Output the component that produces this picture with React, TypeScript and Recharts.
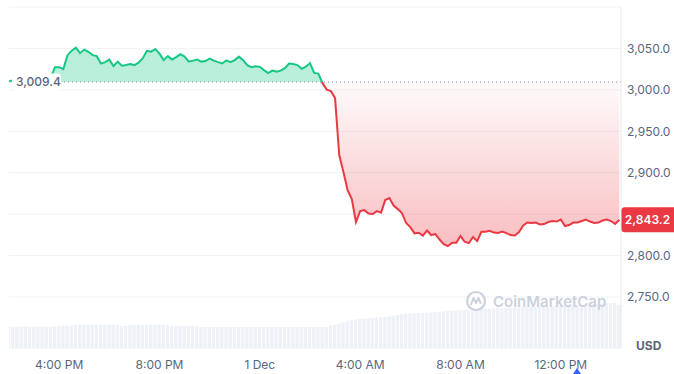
import React from "react";
import {
  ComposedChart,
  Area,
  Bar,
  XAxis,
  YAxis,
  CartesianGrid,
  ReferenceLine,
} from "recharts";

// ---- data ----
const START_HOUR = 14; // 2:00 PM, 30 Nov
const STEP_HOURS = 1 / 6; // 10 minutes

const prices = [
  3010, 3012, 3011, 3013, 3012, 3014, 3012, 3013, 3015, 3013,
  3015.4, 3027.2, 3027.4, 3025.0, 3041.9, 3047.3, 3051.0, 3044.3, 3048.6, 3045.9,
  3041.9, 3040.7, 3031.7, 3033.5, 3036.5, 3028.6, 3034.1, 3029.2, 3029.9, 3031.1,
  3029.9, 3032.9, 3038.3, 3047.1, 3046.1, 3049.2, 3043.7, 3035.9, 3040.7, 3036.5,
  3039.5, 3043.1, 3040.1, 3034.1, 3035.3, 3036.7, 3034.1, 3034.7, 3037.7, 3035.3,
  3033.5, 3031.9, 3035.6, 3033.5, 3035.9, 3040.1, 3035.9, 3029.9, 3027.4, 3028.6,
  3027.8, 3023.8, 3020.2, 3023.2, 3022.0, 3023.2, 3026.2, 3031.7, 3031.1, 3029.9,
  3025.4, 3028.0, 3032.3, 3020.4, 3019.6, 3008.1, 3000.3, 2998.5, 2990.0, 2921.3,
  2900.8, 2879.1, 2868.2, 2840.5, 2853.7, 2854.9, 2850.7, 2850.1, 2853.7, 2851.9,
  2867.0, 2869.4, 2860.4, 2856.1, 2851.3, 2839.3, 2834.4, 2826.8, 2827.6, 2824.2,
  2830.2, 2824.8, 2826.0, 2819.4, 2813.9, 2811.5, 2815.5, 2815.5, 2823.6, 2816.7,
  2815.1, 2822.4, 2817.5, 2828.8, 2828.8, 2830.0, 2827.8, 2827.2, 2829.0, 2827.2,
  2824.8, 2824.2, 2828.4, 2836.3, 2839.9, 2839.3, 2839.9, 2837.5, 2838.1, 2840.5,
  2841.7, 2841.1, 2843.5, 2835.7, 2836.9, 2839.9, 2839.9, 2841.7, 2843.5, 2841.1,
  2839.3, 2839.9, 2842.3, 2843.5, 2841.7, 2838.1, 2843.2,
];

const volumes = [
  12.5, 12.4, 12.5, 12.5, 12.6, 12.5, 12.4, 12.5, 12.5, 12.6, 12.5, 12.6,
  13.1, 13.0, 13.1, 13.2,
  13.7, 13.8, 13.7, 13.7, 13.8, 13.7, 13.6, 13.7, 13.8, 13.7, 13.6,
  12.9, 12.9,
  13.5, 13.6, 13.5, 13.6,
  13.7, 13.8, 13.7, 13.7, 13.8, 13.6,
  12.9, 12.9, 13.0, 12.8, 12.9, 12.9, 12.8,
  12.3, 12.4, 12.3, 12.2, 12.3, 12.3, 12.4, 12.3, 12.2, 12.3, 12.3, 12.3, 12.4, 12.3, 12.2, 12.3,
  12.3, 12.4, 12.3, 12.3, 12.2, 12.3, 12.3, 12.4, 12.3, 12.3, 12.2, 12.3, 12.4, 12.3, 12.4,
  12.9, 13.5,
  14.1, 14.9, 15.8, 16.4, 16.8,
  17.0, 17.2, 17.4,
  17.6, 17.8, 18.0,
  18.3, 18.6, 18.9,
  19.3, 19.9, 20.1,
  20.3, 20.4, 20.5, 20.6, 20.7, 20.9,
  21.1, 21.3, 21.5, 21.7, 21.8,
  22.0, 22.1, 22.3, 22.4, 22.6,
  22.8, 22.9, 23.0, 23.1, 23.2, 23.3,
  23.4, 23.5, 23.6, 23.7, 23.8, 23.9, 23.9, 24.0,
  24.1, 24.2, 24.3, 24.4, 24.5, 24.6, 24.6, 24.7,
  24.8, 24.9, 25.0, 25.2, 25.4, 25.5, 25.7, 25.8,
  26.0, 26.2, 26.5, 26.6, 25.2,
];

const BASE_PRICE = 3009.4;
const xTickValues = [16, 20, 24, 28, 32, 36];
const xTickLabels = ["4:00 PM", "8:00 PM", "1 Dec", "4:00 AM", "8:00 AM", "12:00 PM"];
const priceTicks = [2750, 2800, 2850, 2900, 2950, 3000, 3050, 3100];
const priceDomain: [number, number] = [2688.5, 3100];
const volumeDomain: [number, number] = [0, 200];
const timeDomain: [number, number] = [14, 38.4];

// ---- derived ----
const data = prices.map((p, i) => ({
  t: START_HOUR + i * STEP_HOURS,
  price: p,
  volume: volumes[i],
}));
const maxP = Math.max(...prices);
const minP = Math.min(...prices);
const split = (maxP - BASE_PRICE) / (maxP - minP);
const lastPrice = prices[prices.length - 1];

const GREEN = "#16c784";
const RED = "#ea3943";
const TEXT = "#58667e";
const FONT = "Inter, 'Noto Sans', sans-serif";

const fmt = (v: number) =>
  v.toLocaleString("en-US", { minimumFractionDigits: 1, maximumFractionDigits: 1 });

// tick labels hidden by the top frame or the last-price badge
const priceTickText = (v: number) =>
  v >= priceDomain[1] || Math.abs(v - lastPrice) < 15 ? "" : fmt(v);

const BaseLabel = (props: any) => {
  const { viewBox } = props;
  const x = viewBox.x;
  const y = viewBox.y;
  return (
    <g>
      <rect x={x + 3} y={y - 8.5} width={49} height={17} rx={4} fill="#ffffff" />
      <text
        x={x + 7}
        y={y}
        dy="0.36em"
        fontSize={12}
        fontFamily={FONT}
        fontWeight={500}
        fill={TEXT}
      >
        {fmt(BASE_PRICE)}
      </text>
    </g>
  );
};

const LastLabel = (props: any) => {
  const { viewBox } = props;
  const x = viewBox.x + viewBox.width;
  const y = viewBox.y;
  return (
    <g>
      <rect x={x} y={y - 12.5} width={58} height={25} rx={4} fill={RED} />
      <text
        x={x + 26.5}
        y={y}
        dy="0.36em"
        textAnchor="middle"
        fontSize={12}
        fontFamily={FONT}
        fontWeight={600}
        fill="#ffffff"
      >
        {fmt(lastPrice)}
      </text>
    </g>
  );
};

export default function App() {
  return (
    <div
      style={{
        position: "absolute",
        left: 0,
        top: 0,
        width: 674,
        height: 374,
        background: "#ffffff",
        overflow: "hidden",
        fontFamily: FONT,
      }}
    >
      <ComposedChart
        width={674}
        height={374}
        data={data}
        margin={{ top: 7, right: 0, bottom: 0, left: 9 }}
      >
        <defs>
          <linearGradient id="cmcStroke" x1="0" y1="0" x2="0" y2="1">
            <stop offset={0} stopColor={GREEN} />
            <stop offset={split} stopColor={GREEN} />
            <stop offset={split} stopColor={RED} />
            <stop offset={1} stopColor={RED} />
          </linearGradient>
          <linearGradient id="cmcFill" x1="0" y1="0" x2="0" y2="1">
            <stop offset={0} stopColor={GREEN} stopOpacity={0.3} />
            <stop offset={split} stopColor={GREEN} stopOpacity={0.3} />
            <stop offset={split} stopColor={RED} stopOpacity={0.02} />
            <stop offset={1} stopColor={RED} stopOpacity={0.33} />
          </linearGradient>
        </defs>
        <CartesianGrid yAxisId="price" vertical={false} stroke="#eff2f5" />
        <XAxis
          dataKey="t"
          type="number"
          domain={timeDomain}
          allowDataOverflow
          ticks={xTickValues}
          tickFormatter={(v: number) => xTickLabels[xTickValues.indexOf(v)] ?? ""}
          tickLine={false}
          axisLine={false}
          tickSize={0}
          tickMargin={12}
          height={26}
          tick={{ fill: TEXT, fontSize: 12, fontFamily: FONT }}
        />
        <YAxis
          yAxisId="border"
          orientation="left"
          width={0}
          tick={false}
          tickLine={false}
          axisLine={{ stroke: "#eff2f5" }}
          domain={[0, 1]}
        />
        <YAxis
          yAxisId="price"
          orientation="right"
          width={53}
          domain={priceDomain}
          allowDataOverflow
          ticks={priceTicks}
          interval={0}
          tickFormatter={priceTickText}
          tickLine={false}
          tickSize={0}
          tickMargin={6}
          axisLine={{ stroke: "#e6e9ee" }}
          tick={{ fill: TEXT, fontSize: 12, fontFamily: FONT }}
        />
        <YAxis yAxisId="vol" hide domain={volumeDomain} />
        <Bar
          yAxisId="vol"
          dataKey="volume"
          fill="#eef1f6"
          barSize={3.4}
          isAnimationActive={false}
        />
        <Area
          yAxisId="price"
          type="linear"
          dataKey="price"
          baseValue={BASE_PRICE}
          stroke="url(#cmcStroke)"
          strokeWidth={2}
          fill="url(#cmcFill)"
          fillOpacity={1}
          dot={false}
          activeDot={false}
          isAnimationActive={false}
        />
        <ReferenceLine
          yAxisId="price"
          y={BASE_PRICE}
          stroke="#8a93a6"
          strokeWidth={1}
          strokeDasharray="1 3"
          label={<BaseLabel />}
        />
        <ReferenceLine
          yAxisId="price"
          y={lastPrice}
          stroke="none"
          label={<LastLabel />}
        />
      </ComposedChart>
      {/* watermark */}
      <div
        style={{
          position: "absolute",
          left: 465,
          top: 290,
          display: "flex",
          alignItems: "center",
          gap: 6,
          color: "#cbd2dd",
          fontSize: 15,
          fontWeight: 600,
          fontFamily: FONT,
          pointerEvents: "none",
        }}
      >
        <svg width={22} height={22} viewBox="0 0 22 22">
          <circle cx={11} cy={11} r={9} fill="none" stroke="#cbd2dd" strokeWidth={2.2} />
          <path
            d="M6 14.5 L8.5 8 L11 13 L13.5 8 L15.5 13"
            fill="none"
            stroke="#cbd2dd"
            strokeWidth={2}
            strokeLinecap="round"
            strokeLinejoin="round"
          />
        </svg>
        <span>CoinMarketCap</span>
      </div>
      {/* currency label */}
      <div
        style={{
          position: "absolute",
          left: 636,
          top: 338,
          color: TEXT,
          fontSize: 12,
          fontWeight: 700,
          fontFamily: FONT,
        }}
      >
        USD
      </div>
      {/* event marker */}
      <svg
        style={{ position: "absolute", left: 573, top: 368 }}
        width={8}
        height={6}
      >
        <path d="M4 0 L8 6 L0 6 Z" fill="#3861fb" />
      </svg>
    </div>
  );
}
